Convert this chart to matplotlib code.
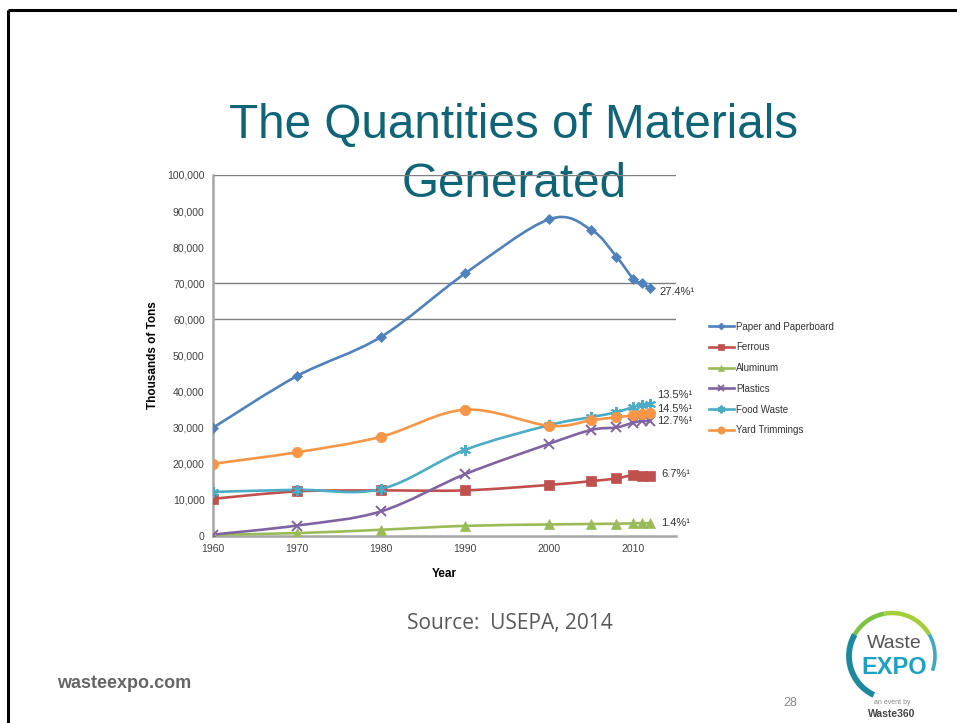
import numpy as np
import matplotlib
matplotlib.use('Agg')
import matplotlib.pyplot as plt
from matplotlib.path import Path
from matplotlib.patches import PathPatch, Arc

# ── data (thousands of tons) ──────────────────────────────────────────
years = [1960, 1970, 1980, 1990, 2000, 2005, 2008, 2010, 2011, 2012]
paper = [29990, 44310, 55160, 72730, 87740, 84840, 77420, 71310, 70000, 68620]
ferrous = [10300, 12360, 12620, 12640, 14150, 15210, 15940, 16900, 16500, 16750]
aluminum = [340, 800, 1730, 2810, 3190, 3330, 3410, 3510, 3580, 3530]
plastics = [390, 2900, 6830, 17130, 25550, 29380, 30070, 31400, 31840, 31750]
food = [12200, 12800, 13000, 23860, 30700, 32930, 34280, 35740, 36310, 36430]
yard = [20000, 23200, 27500, 35000, 30530, 32070, 32900, 33400, 33710, 34000]

series_names = ['Paper and Paperboard', 'Ferrous', 'Aluminum', 'Plastics',
                'Food Waste', 'Yard Trimmings']
series_vals = [paper, ferrous, aluminum, plastics, food, yard]
end_labels = ['27.4%¹', '6.7%¹', '1.4%¹', '12.7%¹', '13.5%¹', '14.5%¹']

yticks = list(range(0, 100001, 10000))
xticks = [1960, 1970, 1980, 1990, 2000, 2010]
grid_at = [60000, 70000, 100000]

colors = ['#4F81BD', '#C0504D', '#9BBB59', '#8064A2', '#4BACC6', '#F79646']
markers = ['D', 's', '^', 'x', (6, 2, 0), 'o']
msizes = [5, 7, 7, 7, 8, 7.5]
label_off = [(7, -3), (8, 1), (8, 0), (5, 0), (5, 7), (5, 3)]


def smooth_path(x, y):
    """Excel-like smoothed line: Catmull-Rom as cubic Bezier."""
    pts = np.column_stack([x, y]).astype(float)
    n = len(pts)
    verts = [pts[0]]
    codes = [Path.MOVETO]
    for i in range(n - 1):
        p0 = pts[max(i - 1, 0)]
        p1 = pts[i]
        p2 = pts[i + 1]
        p3 = pts[min(i + 2, n - 1)]
        c1 = p1 + (p2 - p0) / 6.0
        c2 = p2 - (p3 - p1) / 6.0
        verts += [c1, c2, p2]
        codes += [Path.CURVE4] * 3
    return Path(verts, codes)


fig = plt.figure(figsize=(9.57, 7.23), dpi=100)

# slide background / decorations (pixel coords)
bg = fig.add_axes([0, 0, 1, 1])
bg.set_xlim(0, 957)
bg.set_ylim(723, 0)
bg.axis('off')
bg.plot([8, 957], [10, 10], color='black', lw=2.2, solid_capstyle='butt')
bg.plot([8, 8], [10, 723], color='black', lw=2.2, solid_capstyle='butt')

bg.text(514, 138, 'The Quantities of Materials', ha='center', va='baseline',
        fontsize=34.3, color='#0F6577', family='Liberation Sans', zorder=5)
bg.text(514, 197, 'Generated', ha='center', va='baseline',
        fontsize=34.3, color='#0F6577', family='Liberation Sans', zorder=5)
bg.text(510, 624, 'Source:  USEPA, 2014', ha='center', va='center',
        fontsize=15, color='#595959', family='Open Sans')
bg.text(57, 683, 'wasteexpo.com', ha='left', va='center',
        fontsize=13, color='#666666', family='Liberation Sans', fontweight='bold')
bg.text(790, 703, '28', ha='center', va='center',
        fontsize=9, color='#888888', family='Liberation Sans')

# logo
cx, cy, r = 892, 656, 43
for t1, t2, c, w in [(100, 150, '#7DC242', 3.2), (150, 245, '#1C8A9E', 4.2),
                     (30, 100, '#A6CE39', 3.2), (-20, 30, '#3FA9C2', 2.6)]:
    bg.add_patch(Arc((cx, cy), 2 * r, 2 * r, theta1=-t2, theta2=-t1,
                     color=c, lw=w))
bg.text(cx + 2, 643, 'Waste', ha='center', va='center', fontsize=14,
        color='#555555', family='Liberation Sans')
bg.text(cx + 2, 667, 'EXPO', ha='center', va='center', fontsize=17,
        color='#1BA1C4', family='Liberation Sans', fontweight='bold')
bg.text(cx, 703, 'an event by', ha='center', va='center', fontsize=5,
        color='#888888', family='Liberation Sans')
bg.text(cx, 714, 'Waste360', ha='center', va='center', fontsize=7.5,
        color='#444444', family='Liberation Sans', fontweight='bold')

# ── chart ────────────────────────────────────────────────────────────
ax = fig.add_axes([213 / 957, 1 - 536 / 723, (676 - 213) / 957, (536 - 175) / 723])
ax.patch.set_alpha(0)
ax.set_xlim(1960, 2015.1)
ax.set_ylim(0, 100000)

for g in grid_at:
    ax.axhline(g, color='#7F7F7F', lw=1.0, zorder=1)

handles = []
for name, vals, col, mk, ms, lab, off in zip(series_names, series_vals, colors,
                                             markers, msizes, end_labels, label_off):
    ax.add_patch(PathPatch(smooth_path(years, vals), facecolor='none',
                           edgecolor=col, lw=1.9, zorder=3))
    mew = 1.4 if mk in ('x', (6, 2, 0)) else 0.5
    ax.plot(years, vals, linestyle='none', marker=mk, ms=ms, color=col,
            mec=col, mew=mew, zorder=4)
    h, = ax.plot([], [], color=col, lw=1.9, marker=mk, ms=ms * 0.7,
                 mec=col, mew=mew)
    handles.append(h)
    ax.annotate(lab, xy=(years[-1], vals[-1]), xytext=off,
                textcoords='offset points', ha='left', va='center',
                fontsize=8, color='#333333', family='Liberation Sans',
                annotation_clip=False)

ax.set_yticks(yticks)
ax.set_yticklabels([f'{v:,}' for v in yticks])
ax.set_xticks(xticks)
ax.tick_params(axis='both', length=0, labelsize=7.5, colors='#404040', pad=6)
for t in ax.get_xticklabels() + ax.get_yticklabels():
    t.set_family('Liberation Sans')

for s in ['top', 'right']:
    ax.spines[s].set_visible(False)
for s in ['left', 'bottom']:
    ax.spines[s].set_color('#A6A6A6')
    ax.spines[s].set_linewidth(1.8)

ax.set_ylabel('Thousands of Tons', fontsize=8.5, fontweight='bold',
              family='Liberation Sans', labelpad=6)
ax.set_xlabel('Year', fontsize=8.5, fontweight='bold',
              family='Liberation Sans', labelpad=10)

leg = fig.legend(handles, series_names, loc='upper left',
                 bbox_to_anchor=(700 / 957, 1 - 313 / 723), frameon=False,
                 handlelength=2.6, handletextpad=0.2,
                 labelspacing=1.1, prop={'family': 'Liberation Sans', 'size': 7})
for t in leg.get_texts():
    t.set_color('#333333')

fig.savefig('out.png', dpi=100)
